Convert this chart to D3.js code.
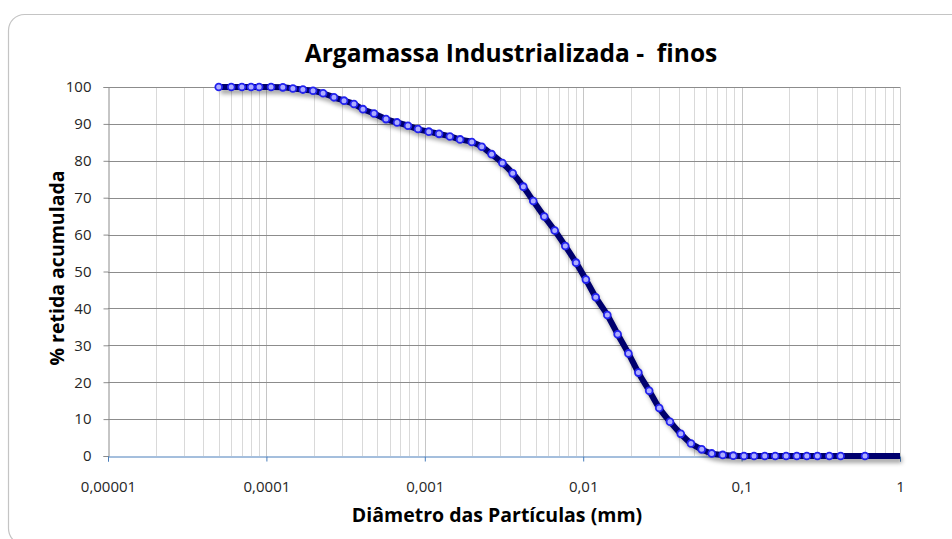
<!DOCTYPE html>
<html>
<head>
<meta charset="utf-8">
<script src="https://cdn.jsdelivr.net/npm/d3@7"></script>
<style>
  body { margin: 0; background: #fff; }
  svg { display: block; }
</style>
</head>
<body>
<div id="chart"></div>
<script>
// particle size (mm) and cumulative retained (%)
const diameters = [
  0.00005, 0.00006, 0.00007, 0.00008, 0.00009, 0.000107, 0.000127, 0.000147, 0.00017, 0.000197,
  0.000228, 0.000267, 0.000309, 0.000357, 0.000407, 0.000478, 0.000569, 0.000668, 0.000783, 0.000906,
  0.00106, 0.00123, 0.00144, 0.00167, 0.00198, 0.00229, 0.00264, 0.00309, 0.00359, 0.00419,
  0.00484, 0.00568, 0.00661, 0.00771, 0.00901, 0.0104, 0.012, 0.0142, 0.0165, 0.0193,
  0.0223, 0.0261, 0.0302, 0.0353, 0.0413, 0.0479, 0.056, 0.0648, 0.076, 0.0886,
  0.1035, 0.1198, 0.14, 0.163, 0.191, 0.223, 0.258, 0.301, 0.358, 0.422,
  0.601
];
const retained = [
  100, 100, 100, 100, 100, 100, 99.9, 99.6, 99.3, 99.0,
  98.3, 97.2, 96.3, 95.4, 94.0, 92.8, 91.3, 90.4, 89.5, 88.6,
  87.9, 87.3, 86.6, 85.8, 85.1, 83.8, 81.8, 79.4, 76.6, 73.0,
  69.1, 64.9, 61.1, 56.9, 52.4, 47.8, 43.0, 38.2, 33.0, 27.8,
  22.6, 17.7, 13.0, 9.3, 6.0, 3.4, 1.8, 0.7, 0.3, 0.1,
  0, 0, 0, 0, 0, 0, 0, 0, 0, 0,
  0
];
// line carries on to the end of the axis without a marker
const lineEnd = [1, 0];

const xTicks = [0.00001, 0.0001, 0.001, 0.01, 0.1, 1];
const xTickLabels = ["0,00001", "0,0001", "0,001", "0,01", "0,1", "1"];
const yTicks = [0, 10, 20, 30, 40, 50, 60, 70, 80, 90, 100];

const width = 952, height = 539;
const margin = {top: 87, right: 52, bottom: 83, left: 108};

const svg = d3.select("#chart").append("svg")
    .attr("width", width)
    .attr("height", height);

const defs = svg.append("defs");
defs.append("filter")
    .attr("id", "shadow")
    .attr("x", "-5%").attr("y", "-5%")
    .attr("width", "110%").attr("height", "120%")
  .append("feDropShadow")
    .attr("dx", 2).attr("dy", 4)
    .attr("stdDeviation", 2)
    .attr("flood-color", "#000")
    .attr("flood-opacity", 0.35);

// outer frame
svg.append("rect")
    .attr("x", 8.5).attr("y", 14.5)
    .attr("width", 960).attr("height", 530)
    .attr("rx", 16)
    .attr("fill", "#fff")
    .attr("stroke", "#c4c4c4")
    .attr("stroke-width", 1.2);

const x = d3.scaleLog()
    .domain([0.00001, 1])
    .range([margin.left, width - margin.right]);
const y = d3.scaleLinear()
    .domain([0, 100])
    .range([height - margin.bottom, margin.top]);

// minor + major vertical grid
const minor = [];
for (let e = -5; e < 0; e++) {
  for (let m = 2; m <= 9; m++) minor.push(m * Math.pow(10, e));
}
svg.append("g")
  .selectAll("line")
  .data(minor)
  .join("line")
    .attr("x1", d => Math.round(x(d)) + 0.5).attr("x2", d => Math.round(x(d)) + 0.5)
    .attr("y1", y(100)).attr("y2", y(0))
    .attr("stroke", "#d9d9d9");
svg.append("g")
  .selectAll("line")
  .data(xTicks.slice(1))
  .join("line")
    .attr("x1", d => Math.round(x(d)) + 0.5).attr("x2", d => Math.round(x(d)) + 0.5)
    .attr("y1", y(100)).attr("y2", y(0))
    .attr("stroke", "#c6c6c6");

// horizontal grid
svg.append("g")
  .selectAll("line")
  .data(yTicks.slice(1))
  .join("line")
    .attr("x1", x.range()[0]).attr("x2", x.range()[1])
    .attr("y1", d => Math.round(y(d)) + 0.5).attr("y2", d => Math.round(y(d)) + 0.5)
    .attr("stroke", "#8c8c8c");

// y axis
const yAxis = svg.append("g")
    .attr("transform", `translate(${margin.left + 0.5},0)`)
    .call(d3.axisLeft(y).tickValues(yTicks).tickSize(5).tickPadding(12));
yAxis.select(".domain").attr("stroke", "#8c8c8c");
yAxis.selectAll(".tick line").attr("stroke", "#8c8c8c");
yAxis.selectAll(".tick text")
    .attr("font-family", "Open Sans, sans-serif")
    .attr("font-size", 15)
    .attr("fill", "#262626");

// x axis
const xAxis = svg.append("g")
    .attr("transform", `translate(0,${Math.round(y(0)) + 0.5})`)
    .call(d3.axisBottom(x).tickValues(xTicks)
      .tickFormat((d, i) => xTickLabels[i]).tickSize(5).tickPadding(20));
xAxis.select(".domain").attr("stroke", "#4a7ebb");
xAxis.selectAll(".tick line").attr("stroke", "#4a7ebb");
xAxis.selectAll(".tick text")
    .attr("font-family", "Open Sans, sans-serif")
    .attr("font-size", 15)
    .attr("fill", "#262626");

// series
const points = diameters.map((d, i) => [d, retained[i]]);
const line = d3.line()
    .x(d => x(d[0]))
    .y(d => y(d[1]))
    .curve(d3.curveMonotoneX);

svg.append("path")
    .datum(points.concat([lineEnd]))
    .attr("fill", "none")
    .attr("stroke", "#00006e")
    .attr("stroke-width", 6)
    .attr("stroke-linejoin", "round")
    .attr("filter", "url(#shadow)")
    .attr("d", line);

svg.append("g")
  .selectAll("circle")
  .data(points)
  .join("circle")
    .attr("cx", d => x(d[0]))
    .attr("cy", d => y(d[1]))
    .attr("r", 3.4)
    .attr("fill", "#adadff")
    .attr("stroke", "#2222ee")
    .attr("stroke-width", 1.8);

// title and axis titles
svg.append("text")
    .attr("x", 511).attr("y", 62)
    .attr("text-anchor", "middle")
    .attr("font-family", "Open Sans, sans-serif")
    .attr("font-weight", "bold")
    .attr("font-size", 24.5)
    .attr("fill", "#000")
    .attr("xml:space", "preserve")
    .text("Argamassa Industrializada -  finos");

svg.append("text")
    .attr("x", 497).attr("y", 522)
    .attr("text-anchor", "middle")
    .attr("font-family", "Open Sans, sans-serif")
    .attr("font-weight", "bold")
    .attr("font-size", 19.5)
    .attr("fill", "#000")
    .text("Diâmetro das Partículas (mm)");

svg.append("text")
    .attr("transform", "translate(64,268) rotate(-90)")
    .attr("text-anchor", "middle")
    .attr("font-family", "Open Sans, sans-serif")
    .attr("font-weight", "bold")
    .attr("font-size", 19.5)
    .attr("fill", "#000")
    .text("% retida acumulada");
</script>
</body>
</html>
